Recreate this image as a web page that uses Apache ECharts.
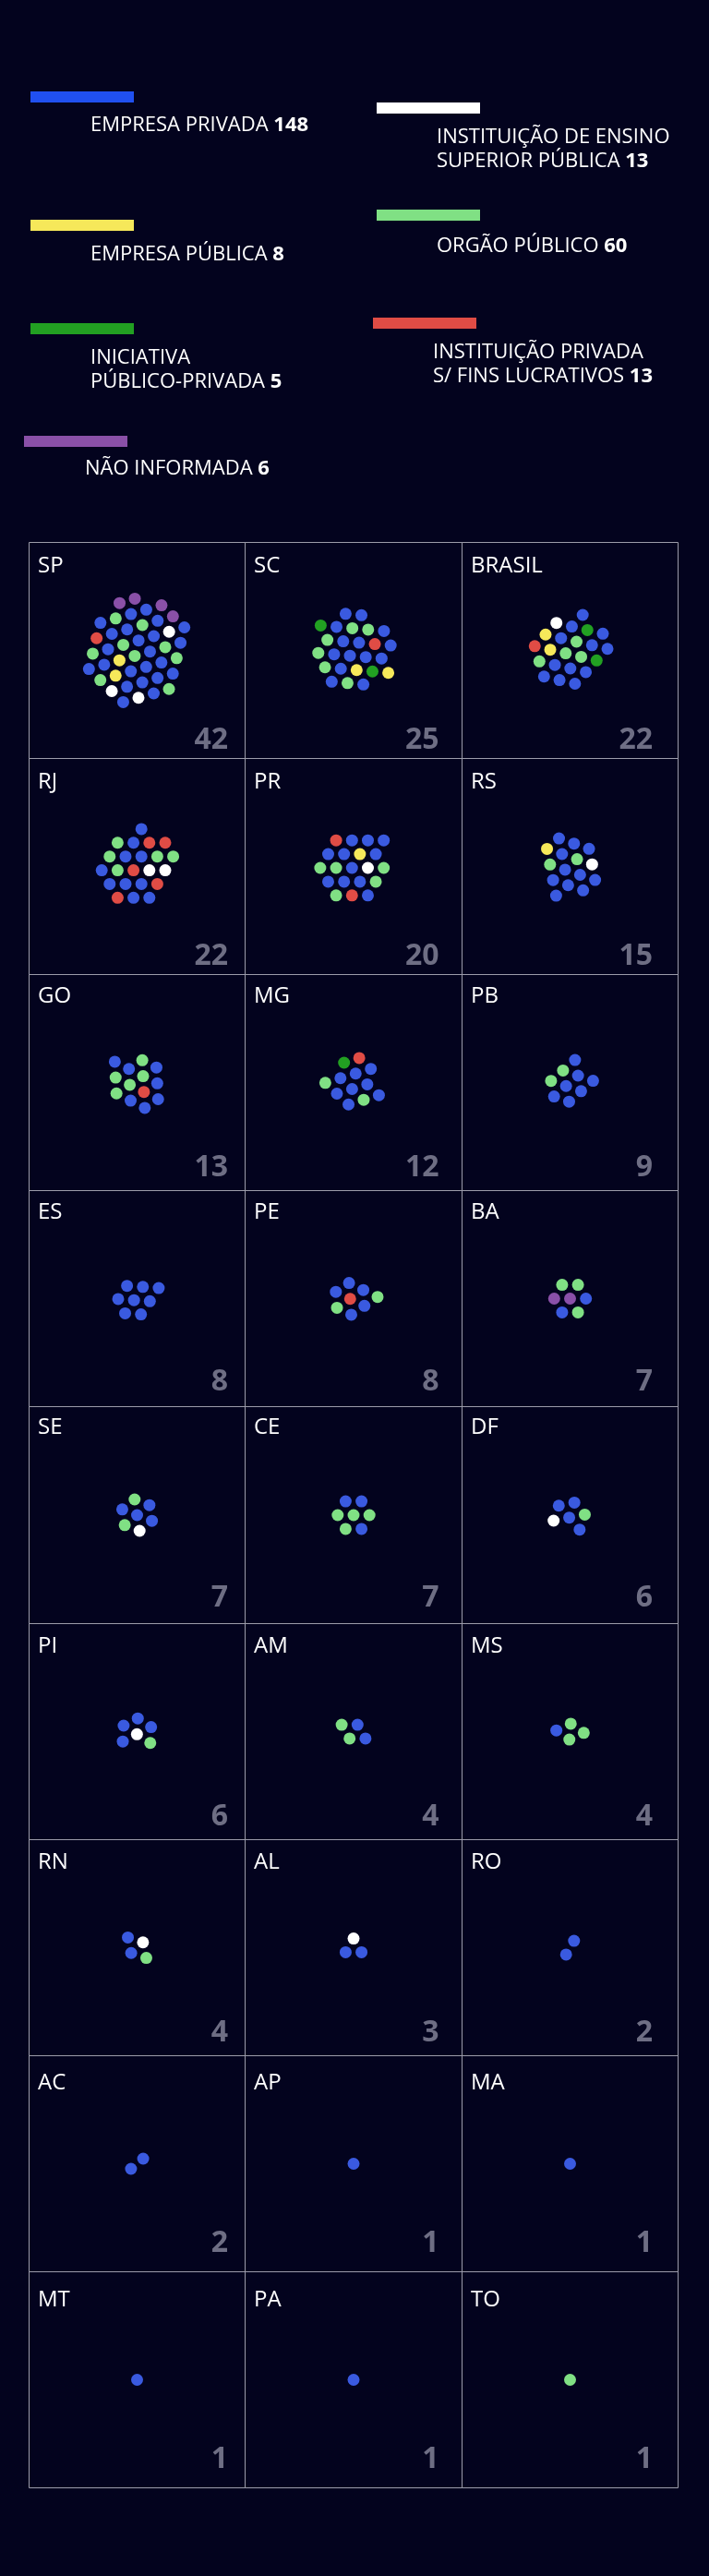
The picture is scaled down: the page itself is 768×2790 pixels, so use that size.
<!DOCTYPE html>
<html><head><meta charset="utf-8">
<script src="https://cdn.jsdelivr.net/npm/echarts@6/dist/echarts.min.js"></script>
<style>html,body{margin:0;padding:0;background:#03031e}#c{width:768px;height:2790px}</style>
</head><body><div id="c"></div>
<script>
// ---- DATA ----
// category codes: B empresa privada, W IES pública, Y empresa pública, G órgão público,
// D iniciativa público-privada, R inst. privada s/ fins lucrativos, P não informada
const categoryCodes = ['B', 'W', 'Y', 'G', 'D', 'R', 'P'];
const categoryLabels = [
  'EMPRESA PRIVADA',
  'INSTITUIÇÃO DE ENSINO\nSUPERIOR PÚBLICA',
  'EMPRESA PÚBLICA',
  'ORGÃO PÚBLICO',
  'INICIATIVA\nPÚBLICO-PRIVADA',
  'INSTITUIÇÃO PRIVADA\nS/ FINS LUCRATIVOS',
  'NÃO INFORMADA'
];
const stateNames = ['SP','SC','BRASIL','RJ','PR','RS','GO','MG','PB','ES','PE','BA','SE','CE','DF','PI','AM','MS','RN','AL','RO','AC','AP','MA','MT','PA','TO'];
// one letter per project, in reading order (top to bottom) inside each cluster
const stateDots = [
  'PPPBBPGBBGBBWBBRBBGGBBGGGYBBBBBBYBGBBGWBWB',
  'BBDBGGBGBBRBGBBBBGBYDYBGB',
  'BWBDBYBGBRBYGGDGBBBBBB',
  'BGBRRGBBGGBGRWWBBBRRBB',
  'RBBBBBYBGGBWGBBBGGRB',
  'BBYBBGWGBBBBBBB',
  'GBBBGGBGRGBBB',
  'RDBBBGBBBBGB',
  'BGBGBBBBB',
  'BBBBBBBB',
  'BBBGRBGB',
  'GGPPBBG',
  'GBBBBGW',
  'BBGGGGB',
  'BBGBWB',
  'BBBWBG',
  'GBGB',
  'GBGG',
  'BWBG',
  'WBB',
  'BB',
  'BB',
  'B',
  'B',
  'B',
  'B',
  'G'
];

// ---- STYLE / LAYOUT ----
const dotColors = { B: '#3a5ae0', W: '#ffffff', Y: '#f6e85a', G: '#80e084', D: '#22a022', R: '#e04c45', P: '#8a50a8' };
const barColors = { B: '#2050f0', W: '#ffffff', Y: '#f6e85a', G: '#80e084', D: '#22a022', R: '#e04c45', P: '#8a50a8' };
const legendLayout = [ // bar x, bar y, text x, first baseline
  [33, 99, 98, 141],
  [408, 111, 473, 154],
  [33, 238, 98, 281],
  [408, 227, 473, 272],
  [33, 350, 98, 393],
  [404, 344, 469, 387],
  [26, 472, 92, 513]
];
// cluster orientation per cell (degrees)
const clusterRotation = [-16, 5, 13, 0, 0, 19, 27, -17, 19, 4, 26, 0, 21, 0, -11, -27, 0, -25, 18, 0, 0, 20, 0, 0, 0, 0, 0];
const FONT = '"Open Sans", "Noto Sans", sans-serif';
const colBounds = [31, 265, 500, 734];
const rowTop0 = 587, rowStep = 234.1;
const countRight = [216, 210.5, 207];
const labelBaseline = [32, 32, 30, 30, 29.5, 31, 31, 36.5, 37];
const countBaseline = [223, 223, 218, 216, 216, 217.5, 218, 212, 212];
const MID = 0.25; // canvas "middle" offset above baseline (em)

// ---- hex packing ----
const S = 17.2, H = S * Math.sqrt(3) / 2;
function cluster(n, rotDeg) {
  const pts = [];
  for (let j = -12; j <= 12; j++) for (let i = -12; i <= 12; i++) {
    const x = (i + ((j & 1) ? 0.5 : 0)) * S, y = j * H;
    const dx = x / S - 0.13, dy = y / S + 0.2;
    pts.push({ x, y, d: dx * dx + dy * dy });
  }
  pts.sort((a, b) => a.d - b.d);
  const sel = pts.slice(0, n);
  const cx = sel.reduce((s, p) => s + p.x, 0) / n, cy = sel.reduce((s, p) => s + p.y, 0) / n;
  const a = rotDeg * Math.PI / 180, ca = Math.cos(a), sa = Math.sin(a);
  const out = sel.map(p => {
    const x = p.x - cx, y = p.y - cy;
    return { x: x * ca - y * sa, y: x * sa + y * ca };
  });
  out.sort((p, q) => (Math.round(p.y * 2) - Math.round(q.y * 2)) || (p.x - q.x));
  return out;
}

const grid = [], xAxis = [], yAxis = [], series = [], graphic = [];

// legend
categoryCodes.forEach((code, k) => {
  const total = stateDots.join('').split('').filter(c => c === code).length;
  const [bx, by, tx, tb] = legendLayout[k];
  graphic.push({ type: 'rect', shape: { x: bx, y: by, width: 112, height: 12 }, style: { fill: barColors[code] }, silent: true });
  const L = 26;
  graphic.push({
    type: 'text', x: tx, y: tb - L / 2 - MID * 22, silent: true,
    style: {
      text: categoryLabels[k] + ' {b|' + total + '}',
      fill: '#ffffff', fontSize: 22, fontFamily: FONT, fontWeight: 'normal', lineHeight: L,
      align: 'left', verticalAlign: 'top', textAlign: 'left', textVerticalAlign: 'top',
      rich: { b: { fontSize: 22, fontFamily: FONT, fontWeight: 'bold', fill: '#ffffff', lineHeight: L } }
    }
  });
});

// cells
stateNames.forEach((name, k) => {
  const c = k % 3, r = Math.floor(k / 3);
  const left = colBounds[c];
  const w = colBounds[c + 1] - colBounds[c];
  const top = Math.round(rowTop0 + r * rowStep);
  const h = Math.round(rowTop0 + (r + 1) * rowStep) - top;
  grid.push({ left: left + 0.5, top: top + 0.5, width: w, height: h, show: true, borderColor: '#9c9caa', borderWidth: 1, backgroundColor: 'transparent' });
  xAxis.push({ type: 'value', gridIndex: k, min: -w / 2, max: w / 2, show: false });
  yAxis.push({ type: 'value', gridIndex: k, min: -h / 2, max: h / 2, inverse: true, show: false });
  const seq = stateDots[k];
  const pts = cluster(seq.length, clusterRotation[k]);
  series.push({
    type: 'scatter', xAxisIndex: k, yAxisIndex: k, symbol: 'circle', symbolSize: 13, silent: true,
    data: pts.map((p, i) => ({ value: [p.x, p.y], itemStyle: { color: dotColors[seq[i]], opacity: 1 } }))
  });
  graphic.push({
    type: 'text', x: left + 10, y: top + labelBaseline[r] - MID * 24, silent: true,
    style: { text: name, fill: '#ffffff', fontSize: 24, fontFamily: FONT, fontWeight: 'normal',
      align: 'left', verticalAlign: 'middle', textAlign: 'left', textVerticalAlign: 'middle' }
  });
  graphic.push({
    type: 'text', x: left + countRight[c], y: top + countBaseline[r] - MID * 32, silent: true,
    style: { text: String(seq.length), fill: '#6e6e84', fontSize: 32, fontFamily: FONT, fontWeight: 'bold',
      align: 'right', verticalAlign: 'middle', textAlign: 'right', textVerticalAlign: 'middle' }
  });
});

const chart = echarts.init(document.getElementById('c'), null, { renderer: 'canvas' });
chart.setOption({
  backgroundColor: '#03031e',
  animation: false,
  grid, xAxis, yAxis, series, graphic
});
</script>
</body></html>
